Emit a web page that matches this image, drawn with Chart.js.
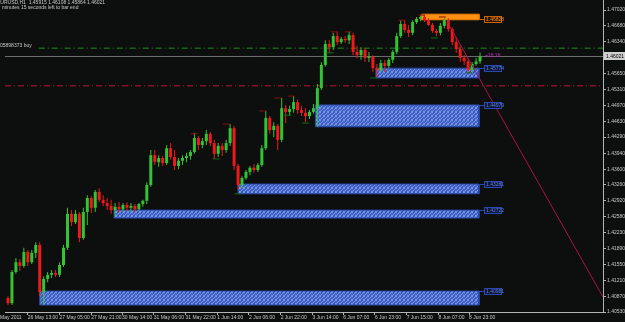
<!DOCTYPE html>
<html>
<head>
<meta charset="utf-8">
<script src="https://cdn.jsdelivr.net/npm/chart.js@4.4.0/dist/chart.umd.min.js"></script>
<style>
html, body { margin: 0; padding: 0; background: #0d0e0e; }
canvas { display: block; }
</style>
</head>
<body>
<canvas id="chart" width="625" height="322"></canvas>
<script>
// EURUSD H1 (one candle kept for every two hours)
var opens = [1.4083,1.4072,1.4139,1.4160,1.4152,1.4182,1.4160,1.4180,1.4197,1.4096,
    1.4124,1.4133,1.4137,1.4133,1.4154,1.4191,1.4264,1.4246,1.4264,1.4212,
    1.4268,1.4298,1.4277,1.4311,1.4294,1.4287,1.4281,1.4272,1.4279,1.4274,
    1.4283,1.4277,1.4281,1.4274,1.4285,1.4292,1.4326,1.4390,1.4375,1.4384,
    1.4373,1.4405,1.4386,1.4367,1.4378,1.4384,1.4388,1.4397,1.4427,1.4412,
    1.4420,1.4436,1.4416,1.4393,1.4410,1.4401,1.4416,1.4448,1.4367,1.4326,
    1.4341,1.4354,1.4363,1.4358,1.4369,1.4405,1.4470,1.4444,1.4453,1.4423,
    1.4491,1.4483,1.4489,1.4504,1.4487,1.4481,1.4474,1.4483,1.4491,1.4534,
    1.4584,1.4629,1.4622,1.4646,1.4633,1.4640,1.4637,1.4648,1.4612,1.4605,
    1.4616,1.4599,1.4602,1.4577,1.4573,1.4588,1.4582,1.4595,1.4612,1.4646,
    1.4672,1.4659,1.4653,1.4676,1.4683,1.4687,1.4680,1.4670,1.4657,1.4653,
    1.4668,1.4680,1.4661,1.4633,1.4618,1.4599,1.4592,1.4573,1.4586,1.45915];
var highs = [1.4087,1.4143,1.4169,1.4167,1.4191,1.4186,1.4186,1.4203,1.4203,1.4130,
    1.4139,1.4143,1.4143,1.4160,1.4197,1.4277,1.4272,1.4272,1.4268,1.4277,
    1.4304,1.4302,1.4315,1.4319,1.4304,1.4298,1.4294,1.4287,1.4289,1.4287,
    1.4289,1.4287,1.4285,1.4287,1.4294,1.4332,1.4401,1.4401,1.4390,1.4388,
    1.4412,1.4416,1.4401,1.4384,1.4390,1.4395,1.4401,1.4438,1.4431,1.4427,
    1.4444,1.4440,1.4423,1.4416,1.4416,1.4423,1.4457,1.4453,1.4371,1.4345,
    1.4358,1.4367,1.4371,1.4373,1.4412,1.4485,1.4474,1.4461,1.4457,1.4513,
    1.4498,1.4496,1.4517,1.4509,1.4496,1.4491,1.4487,1.4500,1.4543,1.4590,
    1.4637,1.4637,1.4653,1.4655,1.4644,1.4646,1.4655,1.4653,1.4625,1.4622,
    1.4620,1.4612,1.4605,1.4586,1.4595,1.4595,1.4599,1.4616,1.4653,1.4680,
    1.4680,1.4670,1.4680,1.4687,1.4691,1.4691,1.4685,1.4674,1.4661,1.4674,
    1.4687,1.4685,1.4665,1.4644,1.4627,1.4605,1.4599,1.4590,1.4599,1.46108];
var lows = [1.4068,1.4068,1.4135,1.4141,1.4148,1.4152,1.4156,1.4169,1.4087,1.4068,
    1.4117,1.4126,1.4128,1.4128,1.4150,1.4186,1.4238,1.4242,1.4203,1.4208,
    1.4240,1.4266,1.4268,1.4289,1.4281,1.4272,1.4264,1.4259,1.4268,1.4268,
    1.4270,1.4268,1.4268,1.4270,1.4279,1.4285,1.4322,1.4369,1.4365,1.4367,
    1.4369,1.4380,1.4358,1.4360,1.4369,1.4375,1.4380,1.4393,1.4401,1.4405,
    1.4412,1.4410,1.4382,1.4386,1.4388,1.4395,1.4410,1.4358,1.4317,1.4319,
    1.4337,1.4347,1.4352,1.4354,1.4365,1.4401,1.4436,1.4429,1.4401,1.4418,
    1.4459,1.4474,1.4481,1.4479,1.4474,1.4461,1.4468,1.4479,1.4451,1.4530,
    1.4580,1.4610,1.4616,1.4627,1.4629,1.4631,1.4629,1.4605,1.4599,1.4595,
    1.4590,1.4590,1.4569,1.4558,1.4569,1.4569,1.4577,1.4588,1.4607,1.4642,
    1.4653,1.4644,1.4648,1.4672,1.4678,1.4676,1.4668,1.4653,1.4646,1.4648,
    1.4663,1.4655,1.4627,1.4610,1.4590,1.4584,1.4567,1.4569,1.4582,1.45864];
var closes = [1.4072,1.4139,1.4160,1.4152,1.4182,1.4160,1.4180,1.4197,1.4096,1.4124,
    1.4133,1.4137,1.4133,1.4154,1.4191,1.4264,1.4246,1.4264,1.4212,1.4268,
    1.4298,1.4277,1.4311,1.4294,1.4287,1.4281,1.4272,1.4279,1.4274,1.4283,
    1.4277,1.4281,1.4274,1.4285,1.4292,1.4326,1.4390,1.4375,1.4384,1.4373,
    1.4405,1.4386,1.4367,1.4378,1.4384,1.4388,1.4397,1.4427,1.4412,1.4420,
    1.4436,1.4416,1.4393,1.4410,1.4401,1.4416,1.4448,1.4367,1.4326,1.4341,
    1.4354,1.4363,1.4358,1.4369,1.4405,1.4470,1.4444,1.4453,1.4423,1.4491,
    1.4483,1.4489,1.4504,1.4487,1.4481,1.4474,1.4483,1.4491,1.4534,1.4584,
    1.4629,1.4622,1.4646,1.4633,1.4640,1.4637,1.4648,1.4612,1.4605,1.4616,
    1.4599,1.4602,1.4577,1.4573,1.4588,1.4582,1.4595,1.4612,1.4646,1.4672,
    1.4659,1.4653,1.4676,1.4683,1.4687,1.4680,1.4670,1.4657,1.4653,1.4668,
    1.4680,1.4661,1.4633,1.4618,1.4599,1.4592,1.4573,1.4586,1.45915,1.46021];

// axis ticks (x is counted in hour bars from the left edge)
var priceTicks = [1.47020, 1.46680, 1.46340, 1.45650, 1.45310, 1.44970, 1.44630, 1.44290, 1.43940,
    1.43600, 1.43260, 1.42920, 1.42580, 1.42230, 1.41890, 1.41550, 1.41210, 1.40870, 1.40530];
var timeLabels = ['25 May 2011', '26 May 13:00', '27 May 05:00', '27 May 21:00', '30 May 14:00',
    '31 May 06:00', '31 May 22:00', '1 Jun 14:00', '2 Jun 06:00', '2 Jun 22:00', '3 Jun 14:00',
    '6 Jun 07:00', '6 Jun 23:00', '7 Jun 15:00', '8 Jun 07:00', '8 Jun 23:00'];
var timeSlots = [-6, 11.5, 27.5, 43.5, 59, 75, 91, 107, 123, 139, 155, 170.5, 186.5, 202.5, 218.5, 234];

// supply / demand zones
var zoneStart = [210, 187, 156.5, 117.5, 55, 17.5];
var zoneEnd = 239;
var zoneTop = [1.4693, 1.4577, 1.4498, 1.4328, 1.4272, 1.4098];
var zoneBottom = [1.4681, 1.4556, 1.4451, 1.4307, 1.4255, 1.4068];
var zoneLevel = [1.46828, 1.45774, 1.44979, 1.43281, 1.42722, 1.40981];

// fractal marks
var fracHighX = [95.5, 111.5, 130, 137.5, 144.5, 166, 173, 200, 210, 220.5];
var fracHighY = [1.4436, 1.4457, 1.4485, 1.4513, 1.4517, 1.4655, 1.4655, 1.4680, 1.4691, 1.4687];
var fracLowX = [106.5, 117.5, 142.5, 151.5, 164, 186, 216.5, 234];
var fracLowY = [1.4382, 1.4307, 1.4476, 1.4459, 1.4610, 1.4556, 1.4642, 1.4567];

// other levels
var lastPrice = 1.46021;
var buyLevel = 1.4620;
var stopLevel = 1.4539;
var trendX = [224.5, 301.5];
var trendY = [1.46655, 1.40852];

var UP = '#33c433', DOWN = '#ee1a1a';
var AXIS = '#b4b4b4', TEXT = '#c8c8c8';

Chart.defaults.font.family = '"Liberation Sans", Arial, sans-serif';
Chart.defaults.font.size = 5;

function makeHatch() {
    var c = document.createElement('canvas');
    c.width = 4; c.height = 4;
    var g = c.getContext('2d');
    g.fillStyle = '#4263c8';
    g.fillRect(0, 0, 4, 4);
    g.fillStyle = '#7894e4';
    [[0, 0], [2, 1], [1, 2], [3, 3], [3, 0], [0, 3]].forEach(function (p) { g.fillRect(p[0], p[1], 1, 1); });
    g.fillStyle = '#3352b4';
    [[1, 0], [2, 3]].forEach(function (p) { g.fillRect(p[0], p[1], 1, 1); });
    return g.createPattern(c, 'repeat');
}
var hatch = makeHatch();

var wicks = [], bodies = [], colors = [];
for (let i = 0; i < opens.length; i++) {
    var slot = 1.5 + 2 * i;
    wicks.push({ x: slot, y: [lows[i], highs[i]] });
    bodies.push({ x: slot, y: [opens[i], closes[i]] });
    colors.push(closes[i] >= opens[i] ? UP : DOWN);
}

var datasets = [];

// zones as closed shapes
for (let i = 0; i < zoneStart.length; i++) {
    var orange = i == 0;
    datasets.push({
        type: 'line',
        data: [
            { x: zoneStart[i], y: zoneTop[i] }, { x: zoneEnd, y: zoneTop[i] },
            { x: zoneEnd, y: zoneBottom[i] }, { x: zoneStart[i], y: zoneBottom[i] },
            { x: zoneStart[i], y: zoneTop[i] }
        ],
        fill: 'shape',
        backgroundColor: orange ? '#ff9010' : hatch,
        borderColor: orange ? '#f08000' : '#2a48a8',
        borderWidth: 1,
        pointRadius: 0,
        tension: 0,
        order: 10
    });
}

function hline(level, x0, color, dash) {
    return {
        type: 'line',
        data: [{ x: x0, y: level }, { x: 301.5, y: level }],
        borderColor: color,
        borderWidth: 1,
        borderDash: dash,
        pointRadius: 0,
        fill: false,
        order: 6
    };
}
datasets.push(hline(lastPrice, 0, '#6e6e6e', []));
datasets.push(hline(buyLevel, 17, '#1f8f1f', [6, 3, 1, 3]));
datasets.push(hline(stopLevel, 0, '#c0143c', [6, 3, 1, 3]));
datasets.push({
    type: 'line',
    data: [{ x: trendX[0], y: trendY[0] }, { x: trendX[1], y: trendY[1] }],
    borderColor: '#b0104a',
    borderWidth: 1,
    pointRadius: 0,
    fill: false,
    order: 0
});

datasets.push({
    type: 'bar',
    data: wicks,
    backgroundColor: colors,
    barThickness: 1,
    grouped: false,
    inflateAmount: 0,
    borderWidth: 0,
    order: 3
});
datasets.push({
    type: 'bar',
    data: bodies,
    backgroundColor: colors,
    barThickness: 3,
    grouped: false,
    inflateAmount: 0,
    minBarLength: 1,
    borderWidth: 0,
    order: 2
});
datasets.push({
    type: 'scatter',
    data: fracHighX.map(function (v, i) { return { x: v, y: fracHighY[i] }; }),
    pointStyle: 'line',
    pointRadius: 3.5,
    borderColor: '#8a1010',
    borderWidth: 1,
    order: 1
});
datasets.push({
    type: 'scatter',
    data: fracLowX.map(function (v, i) { return { x: v, y: fracLowY[i] }; }),
    pointStyle: 'line',
    pointRadius: 3.5,
    borderColor: '#0f6a1a',
    borderWidth: 1,
    order: 1
});

/* Background, info texts and price labels */
var overlay = {
    id: 'overlay',
    afterLayout: function (chart) {
        // plot runs right up to the top edge, as in the terminal
        var ys = chart.scales.y, area = chart.chartArea;
        if (area.top > 0) {
            ys.top = 0;
            ys.height = ys.bottom;
            ys.configure();
            area.top = 0;
            area.height = area.bottom;
        }
    },
    beforeDraw: function (chart) {
        var ctx = chart.ctx;
        ctx.save();
        ctx.fillStyle = '#0d0e0e';
        ctx.fillRect(0, 0, chart.width, chart.height);
        ctx.restore();
    },
    afterDraw: function (chart) {
        var ctx = chart.ctx, xs = chart.scales.x, ys = chart.scales.y, area = chart.chartArea;
        ctx.save();
        ctx.font = '5px "Liberation Sans"';
        ctx.textBaseline = 'middle';
        ctx.textAlign = 'left';
        ctx.fillStyle = TEXT;
        ctx.fillText('EURUSD,H1  1.45915 1.46108 1.45864 1.46021', -3, 3);
        ctx.fillText('minutes 15 seconds left to bar end', 2, 8);
        ctx.fillText('05898373 buy', 0, ys.getPixelForValue(buyLevel) - 2.5);

        var xe = Math.round(xs.getPixelForValue(zoneEnd));
        for (let i = 0; i < zoneLevel.length; i++) {
            var py = Math.round(ys.getPixelForValue(zoneLevel[i])) + 0.5;
            var orange = i == 0;
            ctx.strokeStyle = orange ? '#c86400' : '#2a48b0';
            ctx.lineWidth = 1;
            ctx.beginPath();
            ctx.moveTo(xe, py);
            ctx.lineTo(xe + 5, py);
            ctx.stroke();
            ctx.fillStyle = orange ? '#2a1600' : '#0e1836';
            ctx.fillRect(xe + 5, py - 3.5, 18, 7);
            ctx.strokeRect(xe + 5.5, py - 3, 17, 6);
            ctx.fillStyle = orange ? '#ff9010' : '#5a7ce0';
            ctx.fillText(zoneLevel[i].toFixed(5), xe + 7, py + 0.5);
        }

        var pp = Math.round(ys.getPixelForValue(lastPrice));
        ctx.fillStyle = '#c020c0';
        ctx.fillText('+18.18', xe + 6, pp);
        ctx.fillStyle = '#cfcfcf';
        ctx.fillRect(area.right + 1, pp - 4, 22, 8);
        ctx.fillStyle = '#000000';
        ctx.fillText(lastPrice.toFixed(5), area.right + 3, pp + 0.5);
        ctx.restore();
    }
};

function noPadding(scale) {
    scale.paddingLeft = 0; scale.paddingRight = 0;
    scale.paddingTop = 0; scale.paddingBottom = 0;
}

const config = {
    type: 'bar',
    data: { datasets: datasets },
    options: {
        responsive: false,
        animation: false,
        devicePixelRatio: 1,
        layout: { padding: 0 },
        plugins: { legend: { display: false }, tooltip: { enabled: false } },
        scales: {
            x: {
                type: 'linear',
                min: 0,
                max: 301.5,
                offset: false,
                afterBuildTicks: function (scale) {
                    scale.ticks = timeSlots.map(function (v) { return { value: v }; });
                },
                afterFit: function (scale) {
                    scale.height = 10;
                    noPadding(scale);
                },
                grid: { drawOnChartArea: false, drawTicks: true, tickLength: 3, color: AXIS, offset: false },
                border: { display: true, color: AXIS },
                ticks: {
                    autoSkip: false,
                    maxRotation: 0,
                    align: 'start',
                    padding: 0,
                    color: TEXT,
                    font: { size: 5 },
                    callback: function (v, i) { return timeLabels[i]; }
                }
            },
            y: {
                position: 'right',
                min: 1.40530,
                max: 1.47235,
                afterBuildTicks: function (scale) {
                    scale.ticks = priceTicks.map(function (v) { return { value: v }; });
                },
                afterFit: function (scale) {
                    scale.width = 22;
                    noPadding(scale);
                },
                grid: { drawOnChartArea: false, drawTicks: true, tickLength: 3, color: AXIS },
                border: { display: true, color: AXIS },
                ticks: {
                    padding: 1,
                    color: TEXT,
                    font: { size: 5 },
                    crossAlign: 'near',
                    callback: function (v) { return v.toFixed(5); }
                }
            }
        }
    },
    plugins: [overlay]
};

const myChart = new Chart(document.getElementById('chart'), config);
</script>
</body>
</html>
